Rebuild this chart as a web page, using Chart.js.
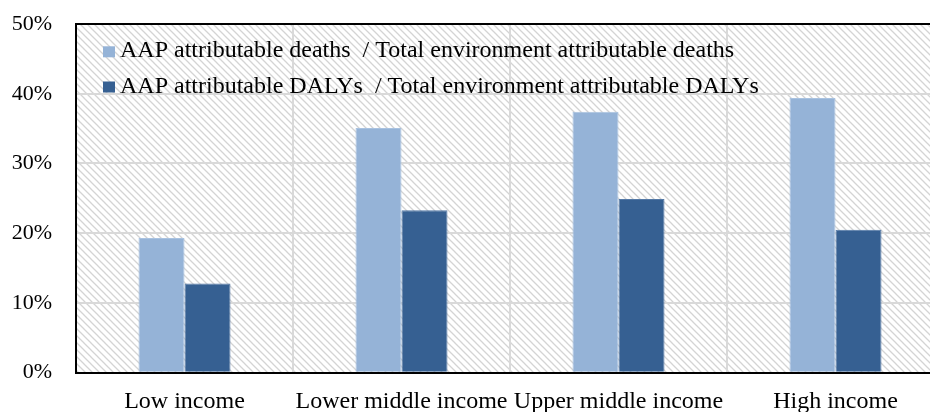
<!DOCTYPE html>
<html>
<head>
<meta charset="utf-8">
<script src="https://cdn.jsdelivr.net/npm/chart.js@4/dist/chart.umd.min.js"></script>
<style>
  html, body { margin: 0; padding: 0; background: #fff; overflow: hidden; }
  #wrap { position: relative; width: 944px; height: 412px; }
</style>
</head>
<body>
<div id="wrap"><canvas id="c"></canvas></div>
<script>
// Income groups along the x axis
const categories = ['Low income', 'Lower middle income', 'Upper middle income', 'High income'];
// Share of environment-attributable burden due to ambient air pollution (%)
const deathsShare = [19.3, 35.1, 37.4, 39.4];
const dalysShare = [12.8, 23.3, 24.9, 20.5];
const seriesLabels = [
  'AAP attributable deaths  / Total environment attributable deaths',
  'AAP attributable DALYs  / Total environment attributable DALYs'
];
const yTickValues = [0, 10, 20, 30, 40, 50];

const FONT = '"Liberation Serif", "Times New Roman", serif';

// Light diagonal hatch used as the plot background
function makeHatch() {
  const p = 7;
  const t = document.createElement('canvas');
  t.width = p; t.height = p;
  const g = t.getContext('2d');
  g.fillStyle = '#ffffff';
  g.fillRect(0, 0, p, p);
  g.strokeStyle = '#d4d4d4';
  g.lineWidth = 1.3;
  g.beginPath();
  g.moveTo(-1, -1); g.lineTo(p + 1, p + 1);
  g.moveTo(-1, p - 1); g.lineTo(1, p + 1);
  g.moveTo(p - 1, -1); g.lineTo(p + 1, 1);
  g.stroke();
  return g.createPattern(t, 'repeat');
}

const hatchBackground = {
  id: 'hatchBackground',
  beforeDraw(chart) {
    const { ctx, chartArea: a } = chart;
    ctx.save();
    ctx.fillStyle = makeHatch();
    ctx.fillRect(a.left, a.top, a.right - a.left, a.bottom - a.top);
    ctx.restore();
  }
};

// Legend drawn inside the plot area, top-left
const innerLegend = {
  id: 'innerLegend',
  afterDraw(chart) {
    const { ctx } = chart;
    ctx.save();
    ctx.font = '24px ' + FONT;
    ctx.textBaseline = 'alphabetic';
    ctx.textAlign = 'left';
    const baselines = [57.3, 92.5];
    chart.data.datasets.forEach((ds, i) => {
      const b = baselines[i];
      ctx.fillStyle = ds.backgroundColor;
      ctx.fillRect(103, b - 11, 12, 11);
      ctx.fillStyle = '#000';
      ctx.fillText(ds.label, 120, b);
    });
    ctx.restore();
  }
};

new Chart(document.getElementById('c'), {
  type: 'bar',
  data: {
    labels: categories,
    datasets: [
      {
        label: seriesLabels[0],
        data: deathsShare,
        backgroundColor: '#95b3d7',
        borderColor: '#a9c2e0',
        borderWidth: 1,
        categoryPercentage: 0.424,
        barPercentage: 1
      },
      {
        label: seriesLabels[1],
        data: dalysShare,
        backgroundColor: '#366092',
        borderColor: '#5479a6',
        borderWidth: 1,
        categoryPercentage: 0.424,
        barPercentage: 1
      }
    ]
  },
  options: {
    responsive: true,
    maintainAspectRatio: false,
    animation: false,
    layout: { autoPadding: false, padding: { top: 24, right: 0, left: 0, bottom: 0 } },
    plugins: {
      legend: { display: false },
      tooltip: { enabled: false }
    },
    scales: {
      x: {
        grid: {
          offset: true,
          color: '#d9d9d9',
          lineWidth: 2,
          drawTicks: false
        },
        border: { display: true, color: '#000', width: 2 },
        ticks: {
          color: '#000',
          font: { family: FONT, size: 24 },
          padding: 15,
          maxRotation: 0,
          autoSkip: false
        },
        afterFit(s) {
          s.height = 39.3;
          s.paddingLeft = 0; s.paddingRight = 0;
        }
      },
      y: {
        min: 0,
        max: 50,
        afterBuildTicks(s) { s.ticks = yTickValues.map(v => ({ value: v })); },
        grid: {
          color: ctx => (ctx.tick && ctx.tick.value === 50 ? '#000' : '#d9d9d9'),
          lineWidth: 2,
          drawTicks: false
        },
        border: { display: true, color: '#000', width: 2 },
        ticks: {
          color: '#000',
          font: { family: FONT, size: 22 },
          padding: 24,
          callback: v => v + '%'
        },
        afterFit(s) {
          s.width = 76;
          s.paddingTop = 0; s.paddingBottom = 0;
        }
      }
    }
  },
  plugins: [hatchBackground, innerLegend]
});
</script>
</body>
</html>
